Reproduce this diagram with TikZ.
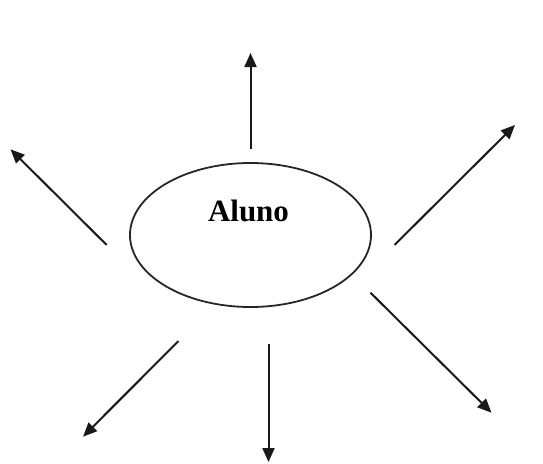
\documentclass[tikz,border=0pt]{standalone}
\usepackage{fontspec}
\setmainfont{Liberation Serif}
\usetikzlibrary{arrows.meta,shapes.geometric}
\tikzset{
  arr/.style={line width=2pt, draw=black!90, -{Triangle[length=14pt,width=12pt]}},
  oval/.style={ellipse, draw=black!85, line width=1.8pt, minimum width=241pt, minimum height=144pt, inner sep=0pt},
  lbl/.style={font=\fontsize{31}{36}\selectfont\bfseries, inner sep=0pt}
}
\begin{document}
\begin{tikzpicture}[x=1pt,y=-1pt]
\useasboundingbox[fill=white] (0,0) rectangle (543,463);
\node[oval] (aluno) at (250.5,235) {};
\node[lbl] (txt) at (248.5,211) {Aluno};
% start points
\coordinate (su)  at (250.5,149);
\coordinate (sul) at (106.7,245);
\coordinate (sur) at (394.5,245);
\coordinate (slr) at (370.5,292.7);
\coordinate (sd)  at (268.5,344);
\coordinate (sll) at (178.5,341);
% tips
\coordinate (tu)  at (250.5,53);
\coordinate (tul) at (10.5,149.3);
\coordinate (tur) at (515,125);
\coordinate (tlr) at (491.5,412.7);
\coordinate (td)  at (268.5,462);
\coordinate (tll) at (83,436.7);
\draw[arr] (su) -- (tu);
\draw[arr] (sul) -- (tul);
\draw[arr] (sur) -- (tur);
\draw[arr] (slr) -- (tlr);
\draw[arr] (sd) -- (td);
\draw[arr] (sll) -- (tll);
\end{tikzpicture}
\end{document}
